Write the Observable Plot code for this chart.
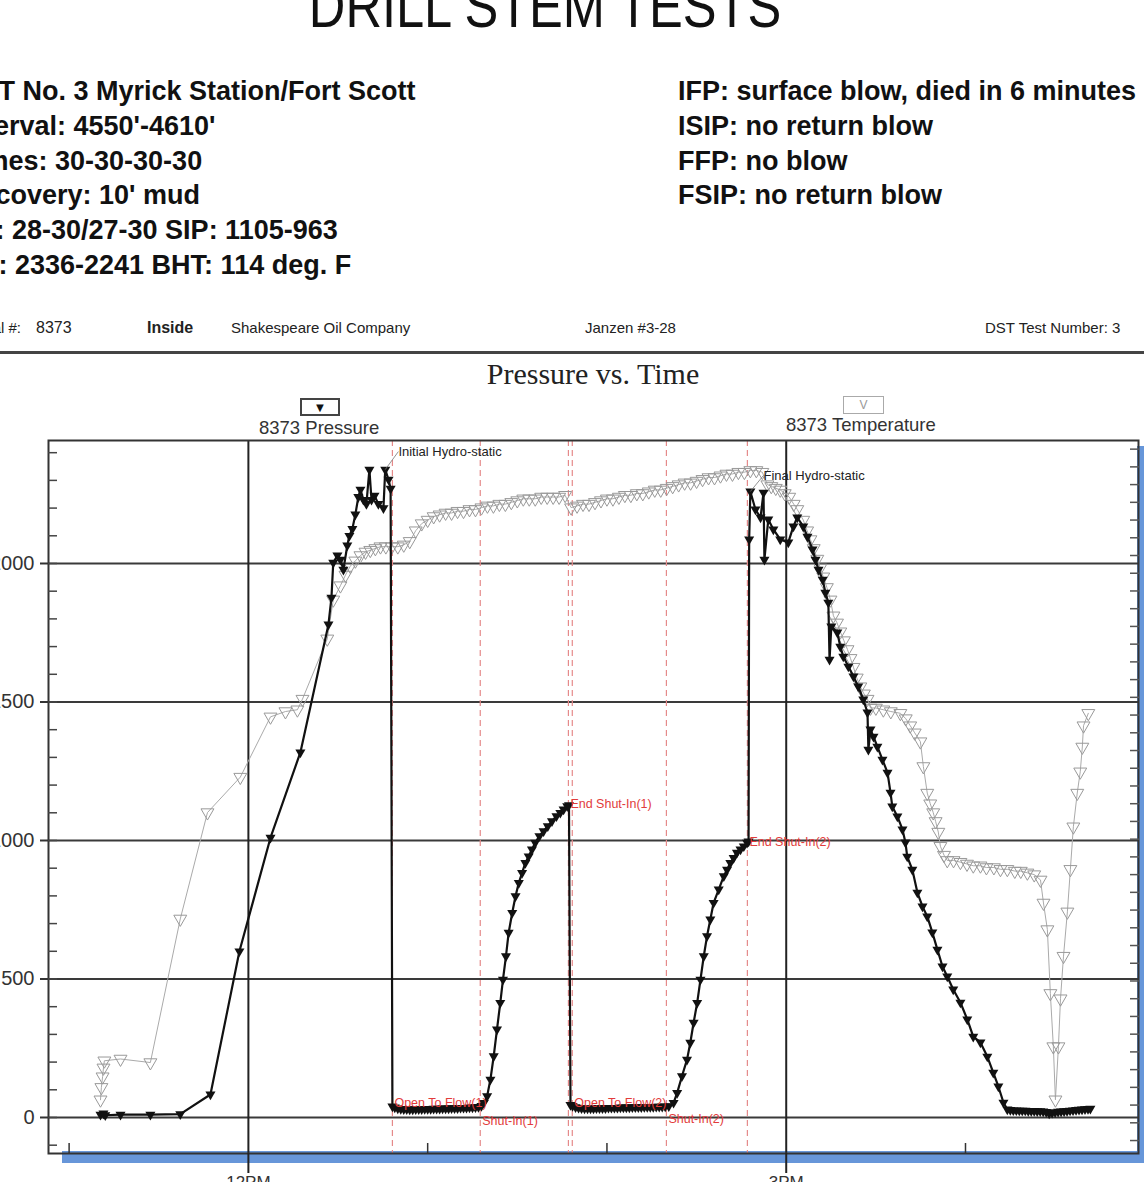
<!DOCTYPE html>
<html>
<head>
<meta charset="utf-8">
<script src="https://cdn.jsdelivr.net/npm/d3@7"></script>
<script src="https://cdn.jsdelivr.net/npm/@observablehq/plot@0.6"></script>
<style>
  body { margin: 0; background: #fff; }
  #page { position: relative; width: 1144px; height: 1182px; overflow: hidden; background: #fff;
          font-family: "Liberation Sans", Arial, sans-serif; color: #111; }
  .abs { position: absolute; white-space: nowrap; line-height: 1; }
  #title { left: 45px; width: 1000px; text-align: center; top: -25px; font-size: 62px;
           font-family: "Liberation Sans", Arial, sans-serif; color: #111;
           transform: scaleX(0.816); transform-origin: 500px 0; }
  .info { font-size: 27px; font-weight: bold; line-height: 34.8px; top: 74px; color: #111; }
  .hdr { font-size: 15px; top: 320px; color: #222; }
  #rule { position: absolute; left: 0; top: 351px; width: 1144px; height: 3px; background: #444; }
  #ptitle { left: 393px; width: 400px; text-align: center; top: 359px; font-size: 30px;
            font-family: "Liberation Serif", "Times New Roman", serif; color: #222; }
  .legbox { position: absolute; box-sizing: border-box; display: flex; align-items: center; justify-content: center; }
  .legtxt { font-size: 18.5px; color: #333; }
  .blue { position: absolute; background: #6796d9; }
  #chart { position: absolute; left: -60px; top: 380px; }
  #chart svg { max-width: none !important; }
</style>
</head>
<body>
<div id="page">
  <div id="title" class="abs">DRILL STEM TESTS</div>
  <div id="infoL" class="abs info" style="left:-39px"></div>
  <div id="infoR" class="abs info" style="left:678px"></div>
  <div class="abs hdr" style="left:-34px">Serial #:</div>
  <div class="abs hdr" style="left:36px;font-size:16px">8373</div>
  <div class="abs hdr" style="left:147px;font-weight:bold;font-size:16px">Inside</div>
  <div class="abs hdr" style="left:231px">Shakespeare Oil Company</div>
  <div class="abs hdr" style="left:585px">Janzen #3-28</div>
  <div class="abs hdr" style="left:985px">DST Test Number: 3</div>
  <div id="rule"></div>
  <div id="ptitle" class="abs">Pressure vs. Time</div>
  <div class="legbox" style="left:300px;top:398px;width:40px;height:18px;border:2px solid #444;font-size:13px;color:#111">▼</div>
  <div class="abs legtxt" style="left:259px;top:419px">8373 Pressure</div>
  <div class="legbox" style="left:843px;top:396px;width:41px;height:18px;border:1.5px solid #aaa;font-size:12px;color:#999">V</div>
  <div class="abs legtxt" style="left:786px;top:416px">8373 Temperature</div>
  <div class="blue" style="left:62px;top:1151px;width:1082px;height:12px"></div>
  <div class="blue" style="left:1137px;top:446px;width:7px;height:717px"></div>
  <div id="chart"></div>
</div>
<script>
// ---- text content ----
const infoLeft = [
  "DST No. 3 Myrick Station/Fort Scott",
  "Interval: 4550'-4610'",
  "Times: 30-30-30-30",
  "Recovery: 10' mud",
  "FP: 28-30/27-30 SIP: 1105-963",
  "HP: 2336-2241 BHT: 114 deg. F"
];
const infoRight = [
  "IFP: surface blow, died in 6 minutes",
  "ISIP: no return blow",
  "FFP: no blow",
  "FSIP: no return blow"
];

// ---- pressure (psi) vs time (minutes after midnight) ----
const runIn = [
  [670.5,10],[671.5,15],[672.1,8],[677.2,10],[687.2,10],[697.2,12],[707.3,83],[717.0,600],[727.4,1010],[737.4,1318],
  [746.8,1780],[747.8,1877],[748.4,2003],[749.8,2029],[750.8,2014],[751.8,1978],[753.1,2065],[753.8,2100],[754.8,2125],[755.8,2177],
  [756.8,2240],[757.5,2267],[758.5,2230],[759.5,2215],[760.5,2339],[761.2,2230],[762.2,2245],[763.5,2215],[765.2,2200],[765.8,2339],
  [766.9,2303],[767.6,2270]
];
const flow1 = [
  [768.2,40],[769,36],[770,33],[771,31],[772,30],[773,30],[774,29],[775,29],[776,30],[777,30],
  [778,30],[779,31],[780,31],[781,31],[782,32],[783,32],[784,32],[785,33],[786,33],[787,33],
  [788,34],[789,34],[790,34],[791,35],[792,35],[793,35],[794,36],[795,36],[796,37],[797,38],[798,42]
];
const shutIn1 = [
  [798.8,53],[799.9,77],[801.0,137],[802.1,221],[803.2,318],[804.3,414],[805.2,498],[806.2,582],[807.1,667],[808.3,739],
  [809.4,799],[810.5,847],[811.6,883],[812.7,919],[813.8,943],[814.9,968],[816.0,992],[817.4,1016],[818.8,1034],[820.2,1052],
  [821.6,1070],[823.1,1088],[824.4,1100],[825.5,1112],[826.7,1124],[827.3,1128]
];
const flow2 = [
  [827.8,45],[828.5,42],[829.5,37],[830.5,35],[831.5,34],[832.5,33],[833.5,33],[834.5,33],[835.5,33],[836.5,34],
  [837.5,34],[838.5,34],[839.5,34],[840.5,35],[841.5,35],[842.5,35],[843.5,35],[844.5,36],[845.5,36],[846.5,36],
  [847.5,36],[848.5,37],[849.5,37],[850.5,37],[851.5,37],[852.5,38],[853.5,38],[854.5,38],[855.5,38],[856.5,39],
  [857.5,39],[858.5,39],[859.5,40]
];
const shutIn2 = [
  [860.7,41],[862.3,53],[863.5,89],[865.1,149],[866.8,209],[867.9,270],[869.0,342],[870.2,414],[871.3,498],[872.4,582],
  [873.5,655],[874.6,715],[875.7,775],[877.4,823],[879.1,871],[880.2,895],[881.3,919],[882.4,937],[883.5,956],[884.7,968],
  [885.8,979],[886.9,992],[887.4,997]
];
const pullOut = [
  [887.6,2087],[888.0,2260],[889.7,2195],[891.4,2166],[892.4,2256],[892.7,2014],[894.0,2159],[895.7,2123],[898.0,2087],[900.7,2076],
  [902.4,2134],[903.7,2166],[905.7,2134],[907.1,2097],[908.8,2051],[909.8,2014],[910.8,1978],[912.2,1942],[913.1,1895],[914.1,1859],
  [914.5,1653],[915.1,1773],[917.1,1751],[918.1,1700],[919.1,1664],[920.8,1628],[922.5,1592],[924.1,1556],[925.8,1509],[927.2,1462],
  [927.5,1328],[928.2,1401],[929.2,1375],[930.5,1339],[932.2,1292],[933.9,1245],[934.9,1173],[935.5,1123],[937.2,1087],[938.9,1040],
  [939.9,993],[940.5,942],[942.2,895],[943.9,812],[945.6,762],[947.2,726],[948.9,668],[950.6,606],[952.3,545],[953.9,509],
  [955.9,462],[958.3,415],[960.6,354],[962.6,292],[965.0,271],[967.3,220],[969.3,162],[971.0,112],[972.7,54],[974.0,29]
];
const atSurface = [
  [975,27],[976,26],[977,26],[978,25],[979,25],[980,25],[981,24],[982,24],[983,24],[984,23],
  [985,23],[986,22],[987,20],[988,15],[989,17],[990,19],[991,21],[992,22],[993,23],[994,24],
  [995,25],[996,26],[997,27],[998,28],[999,29],[1000,30],[1001,31],[1001.8,32]
];

// ---- temperature (deg F) vs time ----
const tempRunIn = [
  [670.5,79.3],[670.8,80.0],[671.2,80.6],[671.5,81.1],[671.8,81.5],[677.2,81.6],[687.2,81.4],[697.2,89.5],[706.3,95.5],[717.3,97.5],
  [727.4,100.9],[732.4,101.2],[736.4,101.3],[738.1,101.9],[746.4,105.3],[748.4,107.5],[750.8,108.3],[752.5,108.9],[754.1,109.4],[755.8,109.7],
  [757.5,110.0],[759.2,110.2],[760.8,110.3],[762.5,110.4],[764.2,110.5],[766.0,110.5],[768.0,110.5]
];
const tempOnBottom = [
  [770,110.5],[772,110.6],[774,110.8],[776,111.4],[778,111.8],[780,112.0],[782,112.2],[784,112.3],[786,112.4],[788,112.4],
  [790,112.5],[792,112.5],[794,112.6],[796,112.6],[798,112.7],[800,112.8],[802,112.8],[804,112.9],[806,112.9],[808,113.0],
  [810,113.1],[812,113.2],[814,113.2],[816,113.2],[818,113.3],[820,113.3],[822,113.3],[824,113.3],[826,113.4],[828,112.7],
  [830,112.8],[832,112.9],[834,112.9],[836,113.0],[838,113.1],[840,113.2],[842,113.2],[844,113.3],[846,113.4],[848,113.4],
  [850,113.5],[852,113.5],[854,113.6],[856,113.7],[858,113.7],[860,113.8],[862,113.9],[864,114.0],[866,114.1],[868,114.1],
  [870,114.2],[872,114.3],[874,114.4],[876,114.4],[878,114.5],[880,114.6],[882,114.6],[884,114.7],[886,114.7],[888,114.8],
  [890,114.8],[892,114.7]
];
const tempPullOut = [
  [893.7,114.0],[895,113.9],[896.5,113.8],[898.0,113.7],[899.5,113.5],[901,113.3],[902.5,112.9],[903.7,112.6],[905.7,112.0],[907,111.4],
  [908.1,110.9],[909.2,110.4],[910.4,109.8],[911.4,109.3],[912.4,108.8],[913.6,108.2],[914.8,107.5],[915.8,106.6],[917,106.2],[918.1,105.7],
  [919.3,105.2],[920.5,104.7],[921.5,104.2],[922.5,103.7],[923.6,103.1],[924.8,102.6],[926,102.2],[927.2,101.9],[928.2,101.4],[930,101.4],
  [932.5,101.3],[935,101.2],[938.2,101.1],[940,100.8],[941.5,100.4],[943,100.0],[944.9,99.5],[945.9,98.1],[947.2,96.6],[948.2,96.0],
  [949.2,95.5],[950.0,95.0],[950.9,94.4],[951.6,93.6],[952.8,93.1],[953.9,92.8],[956,92.8],[958.3,92.7],[960.5,92.6],[962.6,92.5],
  [965,92.5],[967,92.4],[969.5,92.4],[971.7,92.3],[974,92.3],[976.5,92.2],[978.5,92.2],[980.7,92.1],[983,92.0],[985.1,91.7],
  [986.1,90.4],[987.4,88.9],[988.4,85.3],[989.4,82.3],[990.1,79.3],[991.1,82.3],[991.8,85.0],[992.8,87.4],[994.1,89.9],[995.1,92.3],
  [996.1,94.7],[997.4,96.6],[998.4,97.8],[999.1,99.2],[999.5,100.4],[1001.1,101.1]
];

// ---- events ----
const eventNames = ["Open To Flow(1)", "Shut-In(1)", "End Shut-In(1)", "Open To Flow(2)", "Shut-In(2)", "End Shut-In(2)"];
const eventTimes = [768.2, 797.6, 827.1, 828.4, 859.9, 887.0];
const eventLabelPsi = [52, -12, 1133, 52, -6, 993];

const hydroNames = ["Initial Hydro-static", "Final Hydro-static"];
const hydroLabelTime = [770.2, 892.4];
const hydroLabelPsi = [2404, 2318];
const hydroPointTime = [765.8, 888.0];
const hydroPointPsi = [2339, 2260];

// ---- axes ----
const psiMajor = [0, 500, 1000, 1500, 2000];
const psiMinor = d3.range(-100, 2401, 100);
const clockLabelTicks = [720, 900];
const hourTicks = [660, 780, 840, 960];
const tempMinorTicks = d3.range(77, 117, 1);
const tempMajorTicks = d3.range(80, 116, 5);

// temperature axis mapped onto the pressure axis (right-hand scale)
const tP = T => (T - 78.3) * 64;
const pT = P => P / 64 + 78.3;

document.getElementById("infoL").innerHTML = infoLeft.join("<br>");
document.getElementById("infoR").innerHTML = infoRight.join("<br>");

const toRows = arr => arr.map(([t, v]) => ({t, v}));
const pressure = toRows([...runIn, ...flow1, ...shutIn1, ...flow2, ...shutIn2, ...pullOut, ...atSurface]);
const temperature = toRows([...tempRunIn, ...tempOnBottom, ...tempPullOut]);
const events = eventNames.map((name, i) => ({name, t: eventTimes[i], p: eventLabelPsi[i]}));
const hydro = hydroNames.map((name, i) => ({name, t: hydroLabelTime[i], p: hydroLabelPsi[i], t2: hydroPointTime[i], p2: hydroPointPsi[i]}));

const fmtClock = d => { const h = Math.floor(d / 60); const h12 = h % 12 === 0 ? 12 : h % 12; return h12 + (h >= 12 ? "PM" : "AM"); };

const chart = Plot.plot({
  width: 1260, height: 822,
  marginLeft: 108, marginRight: 62, marginTop: 60, marginBottom: 49,
  x: {domain: [653.1, 1017.9]},
  y: {domain: [-130, 2444]},
  style: "background:transparent;max-width:none;overflow:visible;font-family:'Liberation Sans',Arial,sans-serif;",
  marks: [
    Plot.gridY(psiMajor, {stroke: "#3a3a3a", strokeOpacity: 1, strokeWidth: 2}),
    Plot.ruleX(clockLabelTicks, {stroke: "#222", strokeWidth: 2}),
    Plot.ruleX(eventTimes, {stroke: "#e58a8a", strokeWidth: 1.2, strokeDasharray: "6,4"}),
    Plot.frame({stroke: "#333", strokeWidth: 2}),
    Plot.line(temperature, {x: "t", y: d => tP(d.v), stroke: "#aaa", strokeWidth: 1}),
    Plot.dot(temperature, {x: "t", y: d => tP(d.v), symbol: "triangle", rotate: 180, r: 4.8, stroke: "#999", strokeWidth: 1, fill: "none"}),
    Plot.line(pressure, {x: "t", y: "v", stroke: "#111", strokeWidth: 2.2}),
    Plot.dot(pressure, {x: "t", y: "v", symbol: "triangle2", rotate: 180, r: 4.8, fill: "#111"}),
    Plot.link(hydro, {x1: "t", y1: "p", x2: "t2", y2: "p2", stroke: "#777", strokeWidth: 0.8}),
    Plot.text(hydro, {x: "t", y: "p", text: "name", textAnchor: "start", fill: "#222", fontSize: 13}),
    Plot.text(events, {x: "t", y: "p", text: "name", textAnchor: "start", dx: 2, fill: "#e23b3b", fontSize: 12.5}),
    Plot.axisY({ticks: psiMajor, anchor: "left", tickSize: 8, tickPadding: 6, tickFormat: d => String(d), fontSize: 20, fill: "#333", stroke: "#333", strokeWidth: 2, label: null}),
    Plot.axisY({ticks: psiMinor, anchor: "left", tickSize: -9, tickFormat: () => "", stroke: "#444", strokeWidth: 1.5, label: null}),
    Plot.axisY({ticks: tempMinorTicks.map(tP), anchor: "right", tickSize: -9, tickFormat: () => "", stroke: "#555", strokeWidth: 1.5, label: null}),
    Plot.axisY({ticks: tempMajorTicks.map(tP), anchor: "right", tickSize: 0, tickPadding: 14, tickFormat: d => String(Math.round(pT(d))), fontSize: 18, fill: "#333", label: null}),
    Plot.axisX({ticks: clockLabelTicks, anchor: "bottom", tickSize: 20, tickPadding: 2, tickFormat: fmtClock, fontSize: 17, fill: "#333", stroke: "#222", strokeWidth: 2, label: null}),
    Plot.axisX({ticks: hourTicks, anchor: "bottom", tickSize: -10, tickFormat: () => "", stroke: "#333", strokeWidth: 1.5, label: null})
  ]
});
document.getElementById("chart").appendChild(chart);
</script>
</body>
</html>
